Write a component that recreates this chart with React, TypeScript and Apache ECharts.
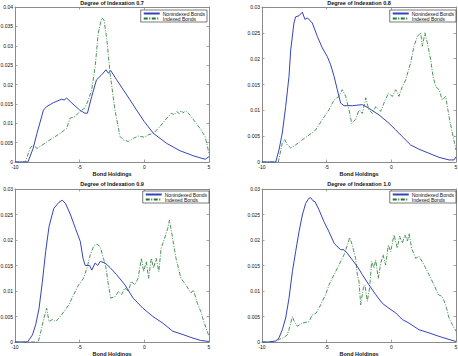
import React, { useEffect, useRef } from "react";
import * as echarts from "echarts";

// ---------- data (x = bond holdings, y = density) ----------
const titles = [
  "Degree of Indexation 0.7",
  "Degree of Indexation 0.8",
  "Degree of Indexation 0.9",
  "Degree of Indexation 1.0",
];
const seriesNames = ["Nonindexed Bonds", "Indexed Bonds"];
const yMaxes = [0.04, 0.03, 0.03, 0.03];

const p1Blue: [number, number][] = [
  [-10, 0], [-9.0, 0], [-8.6, 0.0035], [-8.3, 0.0074], [-7.8, 0.0134], [-7.55, 0.0143],
  [-7.04, 0.0153], [-6.4, 0.0162], [-6.2, 0.016], [-6.0, 0.0165], [-5.6, 0.0152],
  [-5.0, 0.0134], [-4.6, 0.0126], [-4.4, 0.0126], [-4.07, 0.0169], [-3.7, 0.0212],
  [-3.3, 0.0225], [-2.96, 0.0238], [-2.78, 0.0229], [-2.6, 0.0236], [-2.14, 0.0212],
  [-1.62, 0.0186], [-1.1, 0.016], [-0.6, 0.0134], [0, 0.0104], [0.7, 0.0074],
  [1.73, 0.0048], [2.76, 0.0029], [3.8, 0.0016], [4.7, 0.0007], [5, 0.0014],
];
const p1Green: [number, number][] = [
  [-10, 0], [-9.2, 0], [-8.84, 0.0035], [-8.6, 0.0044], [-8.3, 0.0035], [-8.07, 0.004],
  [-7.3, 0.0057], [-6.5, 0.0074], [-6.0, 0.0087], [-5.75, 0.0113], [-5.36, 0.0117],
  [-5.0, 0.013], [-4.6, 0.0139], [-4.33, 0.016], [-4.07, 0.0186], [-3.8, 0.0247],
  [-3.56, 0.0333], [-3.3, 0.0372], [-3.12, 0.0367], [-2.9, 0.0316], [-2.65, 0.0229],
  [-2.27, 0.0134], [-1.88, 0.0066], [-1.62, 0.0057], [-1.24, 0.0053], [-0.85, 0.0061],
  [-0.46, 0.0067], [0, 0.0064], [0.3, 0.007], [0.7, 0.0074], [1.2, 0.0091],
  [1.73, 0.0113], [2.1, 0.0126], [2.3, 0.0122], [2.5, 0.013], [2.7, 0.0125],
  [2.85, 0.0133], [3.0, 0.0127], [3.2, 0.0132], [3.4, 0.0126], [3.8, 0.0109],
  [4.3, 0.0087], [4.7, 0.0066], [5, 0.0022],
];
const p2Blue: [number, number][] = [
  [-10, 0], [-8.94, 0], [-8.69, 0.0023], [-8.43, 0.0056], [-8.17, 0.0107], [-7.91, 0.0166],
  [-7.78, 0.0217], [-7.53, 0.0269], [-7.4, 0.0281], [-7.14, 0.0283], [-6.88, 0.029],
  [-6.68, 0.0276], [-6.49, 0.0279], [-6.11, 0.0269], [-5.72, 0.0243], [-5.34, 0.0221],
  [-4.95, 0.0204], [-4.69, 0.0188], [-4.43, 0.0166], [-4.18, 0.014], [-3.92, 0.0114],
  [-3.66, 0.0109], [-3.02, 0.0109], [-2.24, 0.0111], [-1.73, 0.0104], [-0.95, 0.0091],
  [-0.18, 0.0075], [0.34, 0.0062], [0.85, 0.0049], [1.49, 0.0033], [2.12, 0.0025],
  [2.9, 0.0017], [3.69, 0.0009], [4.46, 0.0004], [4.85, 0.0004], [5, 0.001],
];
const p2Green: [number, number][] = [
  [-10, 0], [-8.74, 0], [-8.43, 0.0036], [-8.25, 0.0044], [-8.04, 0.0033], [-7.78, 0.0027],
  [-7.4, 0.0033], [-6.88, 0.0043], [-6.37, 0.0052], [-5.85, 0.0062], [-5.34, 0.0082],
  [-4.82, 0.0101], [-4.43, 0.012], [-4.05, 0.0127], [-3.79, 0.014], [-3.53, 0.0127],
  [-3.27, 0.0101], [-3.07, 0.0075], [-2.76, 0.0082], [-2.5, 0.0101], [-2.24, 0.0094],
  [-1.98, 0.0124], [-1.73, 0.0101], [-1.47, 0.0094], [-1.21, 0.0107], [-0.82, 0.0098],
  [-0.57, 0.0114], [-0.23, 0.0133], [0.08, 0.0127], [0.34, 0.014], [0.59, 0.0127],
  [0.85, 0.0146], [1.11, 0.0159], [1.49, 0.0192], [1.75, 0.0224], [2.01, 0.0243],
  [2.27, 0.025], [2.4, 0.0224], [2.6, 0.025], [2.78, 0.0231], [3.04, 0.0198],
  [3.22, 0.0166], [3.43, 0.0146], [3.69, 0.014], [3.94, 0.012], [4.2, 0.0127],
  [4.46, 0.0088], [4.72, 0.0056], [5, 0.0023],
];
const p3Blue: [number, number][] = [
  [-10, 0], [-9.03, 0], [-8.65, 0.0014], [-8.4, 0.0034], [-8.14, 0.0066], [-7.88, 0.0119],
  [-7.63, 0.0177], [-7.37, 0.0226], [-7.0, 0.0262], [-6.6, 0.0274], [-6.35, 0.0278],
  [-6.1, 0.0272], [-5.7, 0.0249], [-5.33, 0.0223], [-4.95, 0.0197], [-4.74, 0.0164],
  [-4.57, 0.015], [-4.23, 0.015], [-4.06, 0.0141], [-3.8, 0.0155], [-3.6, 0.015],
  [-3.42, 0.0158], [-3.04, 0.0155], [-2.65, 0.0146], [-2.14, 0.0132], [-1.5, 0.0112],
  [-0.87, 0.0086], [-0.1, 0.0066], [0.66, 0.005], [1.43, 0.0037], [2.2, 0.0021],
  [2.83, 0.0016], [3.6, 0.0009], [4.36, 0.0003], [5, 0.0001],
];
const p3Green: [number, number][] = [
  [-10, 0], [-8.2, 0], [-8.0, 0.0021], [-7.76, 0.0047], [-7.55, 0.0066], [-7.37, 0.004],
  [-7.1, 0.0044], [-6.86, 0.004], [-6.6, 0.0047], [-6.2, 0.006], [-5.84, 0.0073],
  [-5.46, 0.0093], [-5.08, 0.0112], [-4.7, 0.0125], [-4.44, 0.0145], [-4.18, 0.0171],
  [-3.93, 0.0187], [-3.67, 0.0192], [-3.42, 0.0187], [-3.16, 0.0164], [-2.96, 0.0145],
  [-2.78, 0.0112], [-2.6, 0.0086], [-2.27, 0.0089], [-2.0, 0.0099], [-1.76, 0.0093],
  [-1.5, 0.0106], [-1.25, 0.0099], [-1.0, 0.0119], [-0.74, 0.0112], [-0.48, 0.0125],
  [-0.23, 0.0164], [-0.05, 0.0138], [0.15, 0.0158], [0.33, 0.0125], [0.54, 0.0164],
  [0.71, 0.0145], [0.92, 0.0164], [1.12, 0.0138], [1.3, 0.0184], [1.56, 0.0203],
  [1.81, 0.0223], [1.94, 0.0239], [2.14, 0.021], [2.45, 0.0164], [2.83, 0.0125],
  [3.21, 0.0112], [3.6, 0.0096], [3.8, 0.0102], [4.1, 0.0076], [4.36, 0.006],
  [4.6, 0.004], [5, 0.0011],
];
const p4Blue: [number, number][] = [
  [-10, 0], [-9.5, 0], [-8.94, 0.0002], [-8.69, 0.0008], [-8.43, 0.0024], [-8.17, 0.0047],
  [-7.91, 0.0086], [-7.65, 0.0138], [-7.4, 0.0177], [-7.14, 0.0216], [-6.88, 0.0249],
  [-6.62, 0.0272], [-6.37, 0.0282], [-6.24, 0.0283], [-6.06, 0.0277], [-5.9, 0.0275],
  [-5.59, 0.0259], [-5.21, 0.0236], [-4.82, 0.0216], [-4.43, 0.0194], [-4.18, 0.0187],
  [-3.92, 0.0181], [-3.66, 0.0181], [-3.4, 0.0174], [-3.02, 0.0161], [-2.63, 0.0148],
  [-2.24, 0.0132], [-1.73, 0.0112], [-1.21, 0.0093], [-0.7, 0.0076], [-0.18, 0.0066],
  [0.34, 0.0057], [0.85, 0.0044], [1.37, 0.0037], [2.14, 0.0024], [2.91, 0.0018],
  [3.69, 0.0011], [4.46, 0.0005], [5, 0.0001],
];
const p4Green: [number, number][] = [
  [-10, 0], [-8.94, 0], [-8.69, 0.0005], [-8.3, 0.0009], [-8.04, 0.0014], [-7.84, 0.0031],
  [-7.65, 0.005], [-7.53, 0.0042], [-7.27, 0.0031], [-6.88, 0.0037], [-6.37, 0.004],
  [-6.11, 0.0053], [-5.8, 0.0057], [-5.46, 0.0073], [-5.08, 0.0093], [-4.82, 0.0112],
  [-4.43, 0.0132], [-4.05, 0.0151], [-3.66, 0.0171], [-3.4, 0.019], [-3.22, 0.0205],
  [-3.02, 0.019], [-2.76, 0.0164], [-2.63, 0.0132], [-2.5, 0.0119], [-2.37, 0.0073],
  [-2.16, 0.0106], [-2.04, 0.0112], [-1.86, 0.008], [-1.68, 0.0106], [-1.52, 0.0158],
  [-1.34, 0.0145], [-1.21, 0.0161], [-1.01, 0.0125], [-0.82, 0.0154], [-0.64, 0.0171],
  [-0.44, 0.0151], [-0.23, 0.019], [-0.05, 0.0177], [0.21, 0.021], [0.46, 0.0184],
  [0.64, 0.0207], [0.85, 0.0194], [1.06, 0.021], [1.24, 0.0197], [1.37, 0.0213],
  [1.57, 0.0184], [1.88, 0.0164], [2.14, 0.0168], [2.53, 0.0151], [2.91, 0.0132],
  [3.3, 0.0112], [3.63, 0.0093], [3.94, 0.0089], [4.2, 0.0073], [4.46, 0.0047],
  [4.72, 0.0034], [5, 0.0021],
];
const blueData = [p1Blue, p2Blue, p3Blue, p4Blue];
const greenData = [p1Green, p2Green, p3Green, p4Green];

// ---------- layout ----------
const W = 458;
const H = 356;
const grids = [
  { left: 15, top: 7, right: 249, bottom: 194 },
  { left: 262, top: 7, right: 2, bottom: 194 },
  { left: 15, top: 189, right: 249, bottom: 14 },
  { left: 262, top: 189, right: 2, bottom: 14 },
];
const titleTops = [0, 0, 181, 181];
const legendPos = [
  { right: 251, top: 10 },
  { right: 2, top: 10 },
  { right: 249, top: 191 },
  { right: 2, top: 191 },
];

const FONT = "Liberation Sans, Arial, Helvetica, sans-serif";
const AXIS = "#8a8a8a";
const BLUE = "#3444bc";
const GREEN = "#1d7a2c";

export default function App() {
  const ref = useRef<HTMLDivElement>(null);
  useEffect(() => {
    if (!ref.current) return;
    const chart = echarts.init(ref.current, undefined, { renderer: "svg" });
    const xAxis: any[] = [];
    const yAxis: any[] = [];
    const series: any[] = [];
    const title: any[] = [];
    const legend: any[] = [];
    grids.forEach((g, i) => {
      const plotW = W - g.left - g.right;
      title.push({
        text: titles[i],
        left: g.left + plotW / 2,
        top: titleTops[i],
        textAlign: "center",
        padding: 0,
        textStyle: { fontFamily: FONT, fontSize: 5.5, fontWeight: "bold", color: "#111" },
      });
      const tick = { show: true, inside: true, length: 2.5, lineStyle: { color: AXIS, width: 0.8 } };
      const line = { show: true, onZero: false, lineStyle: { color: AXIS, width: 1 } };
      xAxis.push({
        type: "value",
        gridIndex: i,
        min: -10,
        max: 5,
        interval: 5,
        position: "bottom",
        name: "Bond Holdings",
        nameLocation: "middle",
        nameGap: 9,
        nameTextStyle: { fontFamily: FONT, fontSize: 5.5, fontWeight: "bold", color: "#111" },
        axisLine: line,
        axisTick: tick,
        axisLabel: {
          fontFamily: FONT, fontSize: 5, color: "#111", margin: 2,
          showMinLabel: true, showMaxLabel: true,
        },
        splitLine: { show: false },
      });
      xAxis.push({
        type: "value",
        gridIndex: i,
        min: -10,
        max: 5,
        interval: 5,
        position: "top",
        axisLine: line,
        axisTick: tick,
        axisLabel: { show: false },
        splitLine: { show: false },
      });
      yAxis.push({
        type: "value",
        gridIndex: i,
        min: 0,
        max: yMaxes[i],
        interval: 0.005,
        position: "left",
        axisLine: line,
        axisTick: tick,
        axisLabel: {
          fontFamily: FONT, fontSize: 5, color: "#111", margin: 2,
          showMinLabel: true, showMaxLabel: true,
        },
        splitLine: { show: false },
      });
      yAxis.push({
        type: "value",
        gridIndex: i,
        min: 0,
        max: yMaxes[i],
        interval: 0.005,
        position: "right",
        axisLine: line,
        axisTick: tick,
        axisLabel: { show: false },
        splitLine: { show: false },
      });
      series.push({
        name: seriesNames[0],
        type: "line",
        xAxisIndex: 2 * i,
        yAxisIndex: 2 * i,
        data: blueData[i],
        symbol: "none",
        showSymbol: false,
        lineStyle: { color: BLUE, width: 1 },
        itemStyle: { color: BLUE },
        z: 3,
      });
      series.push({
        name: seriesNames[1],
        type: "line",
        xAxisIndex: 2 * i,
        yAxisIndex: 2 * i,
        data: greenData[i],
        symbol: "none",
        showSymbol: false,
        lineStyle: { color: GREEN, width: 0.8, type: [4, 1.5, 1, 1.5] },
        itemStyle: { color: GREEN },
        z: 2,
      });
      legend.push({
        data: seriesNames,
        orient: "vertical",
        right: legendPos[i].right,
        top: legendPos[i].top,
        padding: [1, 2, 1, 2],
        itemGap: 0,
        itemWidth: 16,
        itemHeight: 6,
        backgroundColor: "#fff",
        borderColor: "#222",
        borderWidth: 0.6,
        selectedMode: false,
        itemStyle: { opacity: 0, borderWidth: 0 },
        textStyle: { fontFamily: FONT, fontSize: 5, color: "#111", padding: [0, 0, 0, -2] },
      });
    });
    chart.setOption({
      animation: false,
      backgroundColor: "#fff",
      title,
      legend,
      grid: grids.map((g) => ({ ...g, containLabel: false, outerBoundsMode: "none" })),
      xAxis,
      yAxis,
      series,
    });
    return () => chart.dispose();
  }, []);
  return (
    <div
      ref={ref}
      style={{ position: "fixed", left: 0, top: 0, width: W, height: H }}
    />
  );
}
